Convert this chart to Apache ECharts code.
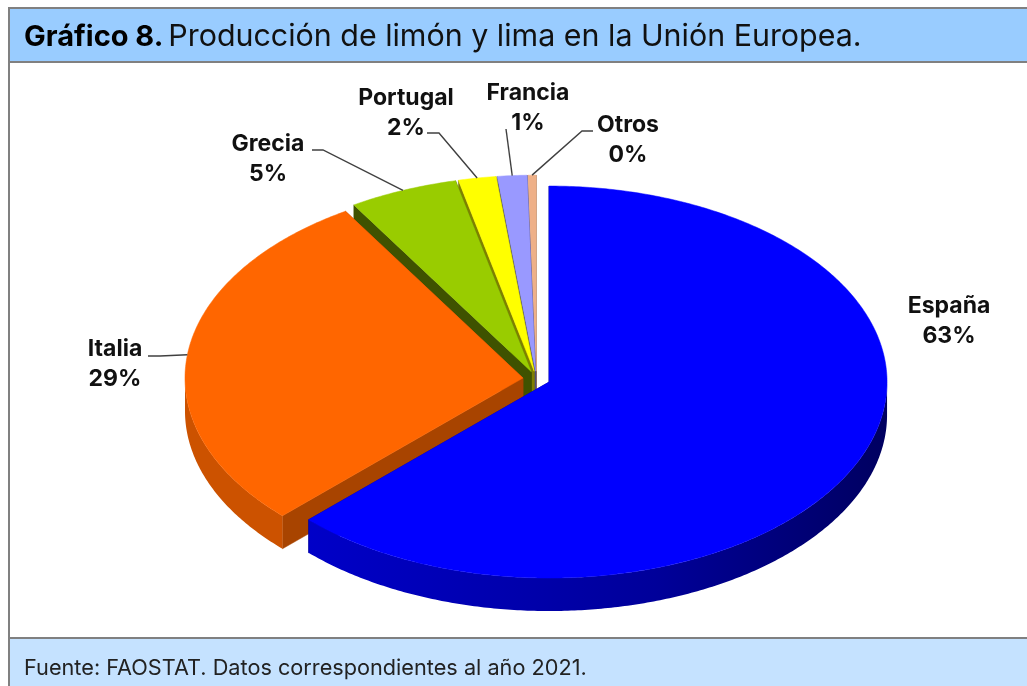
<!DOCTYPE html>
<html>
<head>
<meta charset="utf-8">
<style>
  html, body { margin: 0; padding: 0; background: #fff; }
  #chart { width: 1027px; height: 686px; }
</style>
<script src="https://cdn.jsdelivr.net/npm/echarts@6/dist/echarts.min.js"></script>
</head>
<body>
<div id="chart"></div>
<script>
// datos
const paises = ["España", "Italia", "Grecia", "Portugal", "Francia", "Otros"];
const valores = [62.6, 28.6, 5.2, 1.8, 1.4, 0.4];
const etiquetas = ["63%", "29%", "5%", "2%", "1%", "0%"];

const colores = ["#0000ff", "#ff6600", "#99cc00", "#ffff00", "#9999ff", "#eeb088"];
const coloresArco = ["#000099", "#cc5200", "#5c7a00", "#999900", "#5c5c99", "#8f6a52"];
const coloresCorte = ["#00007a", "#a84400", "#3f5200", "#7f7f00", "#4d4d80", "#7a5a45"];

// posicion del texto y codo de la linea guia (null = sin linea)
const posEtiquetas = [
  { x: 949, y: 321, codo: null },
  { x: 115, y: 364, codo: [[148, 356], [160, 356]] },
  { x: 268, y: 159, codo: [[312, 150], [323, 150]] },
  { x: 406, y: 113, codo: [[427, 133], [439, 133]] },
  { x: 528, y: 108, codo: [[506, 129]] },
  { x: 628, y: 140, codo: [[593, 131], [582, 131]] }
];

const CX = 536.5, CY = 379, RX = 338, RY = 196, ALTO = 33, EXPLOTA = 13.6;
const FUENTE = "Inter, 'Open Sans', sans-serif";

const total = valores.reduce((a, b) => a + b, 0);
let acum = 0;
const sectores = valores.map((v, i) => {
  const ini = acum / total * Math.PI * 2;
  acum += v;
  return { indice: i, ini: ini, fin: acum / total * Math.PI * 2 };
});

function punto(c, ang, dy) {
  return [c[0] + RX * Math.sin(ang), c[1] - RY * Math.cos(ang) + (dy || 0)];
}

function arco(c, a, b, dy) {
  const pts = [];
  const pasos = Math.max(2, Math.ceil((b - a) / 0.01));
  for (let k = 0; k <= pasos; k++) {
    pts.push(punto(c, a + (b - a) * k / pasos, dy));
  }
  return pts;
}

function renderSector(params, api) {
  const s = sectores[api.value(0)];
  const i = s.indice;
  const medio = (s.ini + s.fin) / 2;
  const c = [
    CX + EXPLOTA * Math.sin(medio),
    CY - EXPLOTA * RY / RX * Math.cos(medio)
  ];
  const hijos = [];
  const poly = (pts, fill) => hijos.push({
    type: "polygon",
    shape: { points: pts },
    style: { fill: fill, stroke: fill, lineWidth: 0.5 }
  });

  // cortes radiales
  [s.ini, s.fin].forEach(a => {
    const p = punto(c, a);
    poly([c, p, [p[0], p[1] + ALTO], [c[0], c[1] + ALTO]], coloresCorte[i]);
  });
  // pared exterior, solo la mitad de delante
  const a = Math.max(s.ini, Math.PI / 2), b = Math.min(s.fin, Math.PI * 1.5);
  if (b > a) {
    const relleno = i === 0
      ? new echarts.graphic.LinearGradient(0, 0, 1, 0, [
          { offset: 0, color: "#0000c8" },
          { offset: 0.6, color: "#00009a" },
          { offset: 1, color: "#000060" }
        ])
      : coloresArco[i];
    hijos.push({
      type: "polygon",
      shape: { points: arco(c, a, b, 0).concat(arco(c, a, b, ALTO).reverse()) },
      style: { fill: relleno }
    });
  }
  // cara superior
  poly([c].concat(arco(c, s.ini, s.fin, 0)), colores[i]);

  // linea guia y texto
  const pos = posEtiquetas[i];
  if (pos.codo) {
    hijos.push({
      type: "polyline",
      shape: { points: pos.codo.concat([punto(c, medio)]) },
      style: { fill: null, stroke: "#404040", lineWidth: 1.4 }
    });
  }
  hijos.push({
    type: "text",
    x: pos.x,
    y: pos.y,
    style: {
      text: paises[i] + "\n" + etiquetas[i],
      fill: "#111",
      font: "bold 23px " + FUENTE,
      lineHeight: 30,
      align: "center",
      verticalAlign: "middle"
    }
  });
  return { type: "group", children: hijos };
}

const chart = echarts.init(document.getElementById("chart"));
chart.setOption({
  animation: false,
  title: {
    left: 24,
    top: 22,
    padding: 0,
    text: "{b|Gráfico 8.} {n|Producción de limón y lima en la Unión Europea.}",
    textStyle: {
      rich: {
        b: { fontFamily: FUENTE, fontSize: 29, fontWeight: "bold", color: "#000" },
        n: { fontFamily: FUENTE, fontSize: 30.4, fontWeight: "normal", color: "#111" }
      }
    },
    z: 10
  },
  graphic: [
    { type: "rect", z: -1, shape: { x: 9, y: 8, width: 1030, height: 54 },
      style: { fill: "#99ccff", stroke: "#808080", lineWidth: 2 } },
    { type: "rect", z: -1, shape: { x: 9, y: 62, width: 1030, height: 576 },
      style: { fill: "#fff", stroke: "#808080", lineWidth: 2 } },
    { type: "rect", z: -1, shape: { x: 9, y: 638, width: 1030, height: 60 },
      style: { fill: "#c5e2ff", stroke: "#808080", lineWidth: 2 } },
    { type: "text", z: 10, x: 24, y: 668,
      style: { text: "Fuente: FAOSTAT. Datos correspondientes al año 2021.",
        font: "21.7px " + FUENTE, fill: "#222", verticalAlign: "middle" } }
  ],
  series: [{
    type: "custom",
    coordinateSystem: "none",
    renderItem: renderSector,
    // de atras hacia delante: España se pinta la ultima
    data: paises.map((p, i) => [paises.length - 1 - i]),
    silent: true
  }]
});
</script>
</body>
</html>
